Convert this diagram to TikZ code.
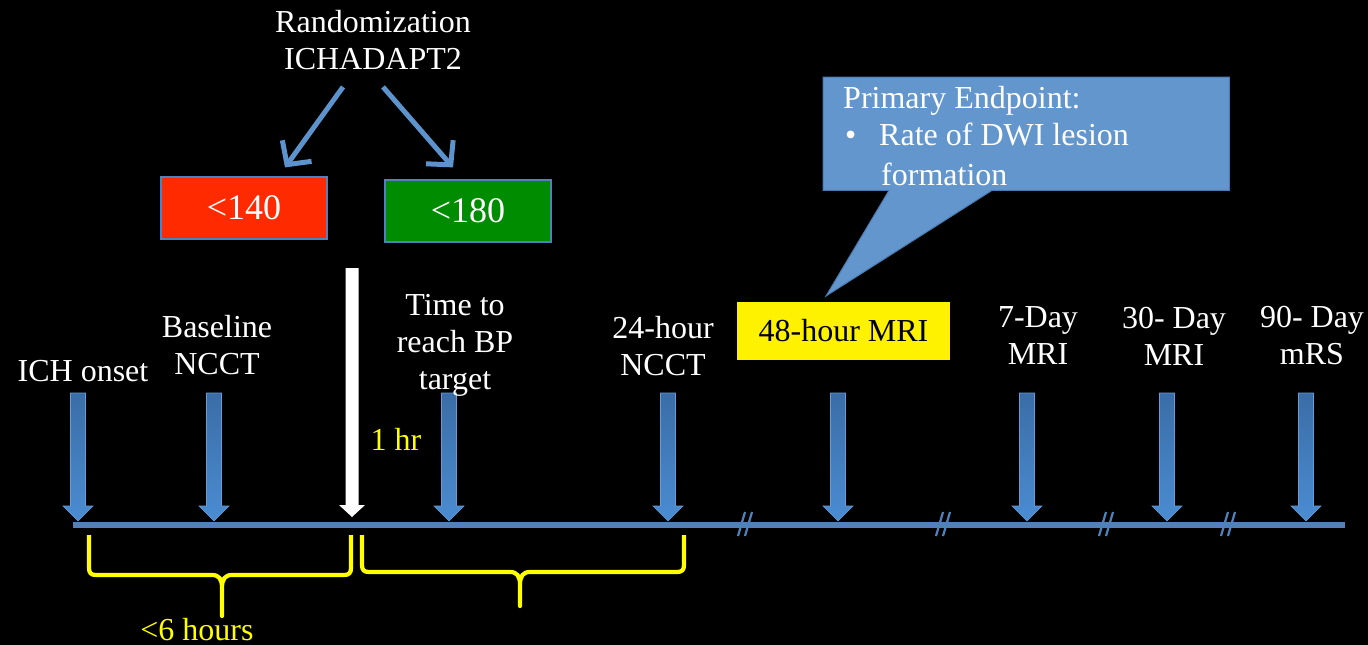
\documentclass[tikz,border=0pt]{standalone}
\usepackage{fontspec}
\setmainfont{Liberation Serif}
\usetikzlibrary{arrows.meta,calc}
\definecolor{tlblue}{HTML}{4F81BD}
\definecolor{arrtop}{HTML}{3A6DA6}
\definecolor{arrbot}{HTML}{4B8CD2}
\definecolor{diagblue}{HTML}{5D93CD}
\definecolor{boxred}{HTML}{FF2A00}
\definecolor{boxgreen}{HTML}{008C00}
\definecolor{calloutblue}{HTML}{6296CC}
\definecolor{calloutedge}{HTML}{4A7AB0}
\definecolor{braceyellow}{HTML}{FFFF00}
\begin{document}
\begin{tikzpicture}[x=1pt,y=-1pt,
  lbl/.style={text=white, font=\fontsize{32}{37}\selectfont, inner sep=0pt, align=center},
  ylbl/.style={text=braceyellow, font=\fontsize{32}{37}\selectfont, inner sep=0pt},
  ctext/.style={text=white, font=\fontsize{32}{37}\selectfont, inner sep=0pt},
  armbox/.style={draw=tlblue, line width=1.2pt, text=white, font=\fontsize{36}{40}\selectfont,
    minimum width=166, minimum height=62, inner sep=0pt},
  diag/.style={draw=diagblue, line width=5pt, -{Straight Barb[length=17pt,width=36pt]}},
  blockarr/.style={top color=arrtop, bottom color=arrbot, draw=arrbot!85!white, line width=0.6pt},
  bracestyle/.style={draw=braceyellow, line width=4.2pt, line join=round},
  slashstyle/.style={draw=tlblue, line width=2.2pt},
  timeline/.style={draw=tlblue, line width=5.2pt}]
\useasboundingbox (0,0) rectangle (1368,645);
\fill[black] (0,0) rectangle (1368,645);

% timeline
\coordinate (tlstart) at (73,525);
\coordinate (tlend) at (1345,525);
\draw[timeline] (tlstart) -- (tlend);

% break marks
\foreach \c in {746,944,1107,1229}{
  \draw[slashstyle] (\c-8,536) -- (\c-1,512);
  \draw[slashstyle] (\c-1,536) -- (\c+6,512);
}

% blue block arrows
\foreach \x in {78,214,449,668,838,1027,1167,1306}{
  \shade[blockarr] (\x-7.5,393) -- (\x+7.5,393) -- (\x+7.5,506) -- (\x+15,506) -- (\x,521)
    -- (\x-15,506) -- (\x-7.5,506) -- cycle;
}
% white arrow
\fill[white] (345.5,268) -- (358.5,268) -- (358.5,505) -- (365,505) -- (352,517)
  -- (339,505) -- (345.5,505) -- cycle;

% labels
\node[lbl] (rand) at (373,40) {Randomization\\ICHADAPT2};
\node[lbl, anchor=base] (onset) at (83,381.5) {ICH onset};
\node[lbl] (baseline) at (217,345) {Baseline\\NCCT};
\node[lbl] (reach) at (455,345) {Time to\\reach BP\\target};
\node[lbl] (ct24) at (663,346) {24-hour\\NCCT};
\node[lbl] (day7) at (1038,336) {7-Day\\MRI};
\node[lbl] (day30) at (1174,336) {30- Day\\MRI};
\node[lbl] (day90) at (1312,336) {90- Day\\mRS};

% arm boxes
\node[armbox, fill=boxred] (red) at (244,208) {\raisebox{-2pt}{<140}};
\node[armbox, fill=boxgreen] (green) at (468,211) {\raisebox{-2pt}{<180}};
\draw[diag] ($(rand.south)+(-30,17)$) -- ($(red.north)+(41,-9)$);
\draw[diag] ($(rand.south)+(10,17)$) -- ($(green.north)+(-15,-12)$);

% 48-hour MRI box
\node[fill=yellow, text=black, font=\fontsize{32}{37}\selectfont, minimum width=213,
  minimum height=58, inner sep=0pt] (mri48) at (843.5,331) {48-hour MRI};

% callout
\node[anchor=north west, minimum width=406, minimum height=113, inner sep=0pt] (callout) at (823,77) {};
\coordinate (tip) at (826,296);
\filldraw[fill=calloutblue, draw=calloutedge, line width=1pt]
  (callout.north west) -- (callout.north east) -- (callout.south east)
  -- ($(callout.south west)+(169,0)$) -- (tip) -- ($(callout.south west)+(66,0)$)
  -- (callout.south west) -- cycle;
\node[ctext, anchor=base west] (pe) at (843,108.5) {Primary Endpoint:};
\node[ctext, anchor=base west] (bul) at (845,145.5) {•};
\node[ctext, anchor=base west] (r1) at (879,145.5) {Rate of DWI lesion};
\node[ctext, anchor=base west] (r2) at (881,185.5) {formation};

% braces
\draw[bracestyle] (89,535) -- (89,568) .. controls (89,573) and (91,575) .. (96,575)
  -- (212,575) .. controls (219,575) and (222,579) .. (222,588) -- (222,616)
  -- (222,588) .. controls (222,579) and (225,575) .. (232,575)
  -- (344,575) .. controls (349,575) and (351,573) .. (351,568) -- (351,535);
\draw[bracestyle] (362,535) -- (362,565) .. controls (362,570) and (364,572) .. (369,572)
  -- (510,572) .. controls (517,572) and (520,576) .. (520,585) -- (520,606)
  -- (520,585) .. controls (520,576) and (523,572) .. (530,572)
  -- (677,572) .. controls (682,572) and (684,570) .. (684,565) -- (684,535);
\node[ylbl, anchor=base] (hr1) at (396,450) {1 hr};
\node[ylbl, anchor=base] (six) at (197,640) {<6 hours};
\end{tikzpicture}
\end{document}
